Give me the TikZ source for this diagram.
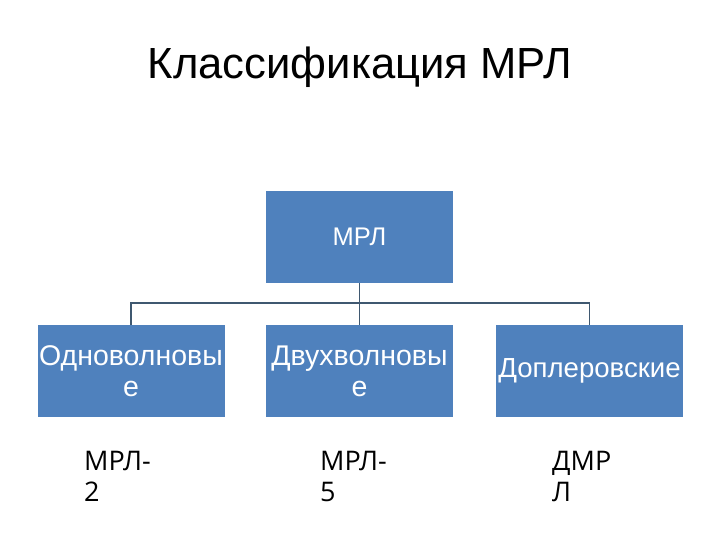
\documentclass[tikz,border=0pt]{standalone}
\usepackage{fontspec}
\setmainfont{Liberation Sans}
\newfontfamily\labfont{Open Sans}
\definecolor{boxblue}{HTML}{4F81BD}
\definecolor{linecol}{HTML}{3F5870}
\begin{document}
\begin{tikzpicture}[x=1pt,y=-1pt,
  box/.style={fill=boxblue, draw=none, minimum width=187pt, minimum height=92pt, inner sep=0pt,
    text=white, align=center},
  big/.style={font=\fontsize{28.5}{31}\selectfont},
  conn/.style={draw=linecol, line width=1.8pt},
  lab/.style={anchor=north west, inner sep=0pt, align=left, font=\labfont\fontsize{27}{31}\selectfont}]
\useasboundingbox (0,0) rectangle (720,540);
\node[anchor=center, inner sep=0pt, font=\fontsize{43.6}{50}\selectfont] (title) at (360,67) {Классификация МРЛ};
\node[box, font=\fontsize{25.5}{30}\selectfont] (top) at (359.5,237) {МРЛ};
\node[box, big] (a) at (131,371) {Одноволновы\\е};
\node[box, big] (b) at (359.5,371) {Двухволновы\\е};
\node[box, font=\fontsize{27.6}{31}\selectfont] (c) at (589.5,371) {Доплеровские};
\coordinate (j) at (359.5,303);
\draw[conn] (top.south) -- (j);
\draw[conn] (a.north) |- (j) -| (c.north);
\draw[conn] (j) -- (b.north);
\node[lab] (la) at (84,451) {МРЛ-\\2};
\node[lab] (lb) at (320,451) {МРЛ-\\5};
\node[lab] (lc) at (552,451) {ДМР\\Л};
\end{tikzpicture}
\end{document}
